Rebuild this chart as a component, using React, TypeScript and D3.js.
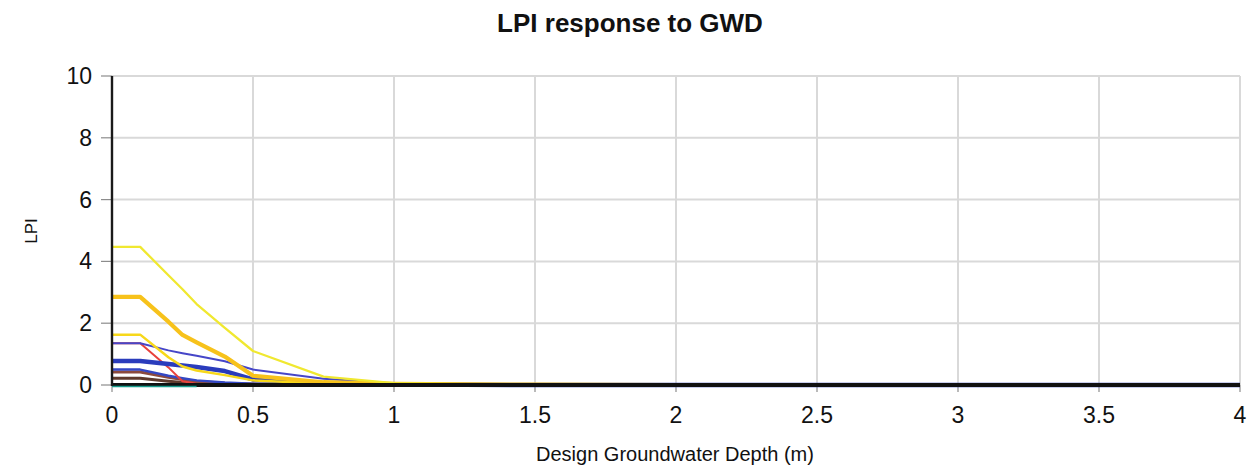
import React from "react";
import * as d3 from "d3";

const depths = [0, 0.1, 0.2, 0.25, 0.3, 0.4, 0.5, 0.75, 1, 1.25, 1.5, 2, 2.5, 3, 3.5, 4];

const lpiYellowThin = [4.47, 4.47, 3.55, 3.1, 2.62, 1.85, 1.1, 0.27, 0.06, 0.03, 0.01, 0, 0, 0, 0, 0];
const lpiOrangeThick = [2.85, 2.85, 2.05, 1.62, 1.38, 0.92, 0.3, 0.09, 0.04, 0.02, 0.01, 0, 0, 0, 0, 0];
const lpiYellowMid = [1.63, 1.63, 0.9, 0.6, 0.47, 0.32, 0.15, 0.05, 0.02, 0.01, 0, 0, 0, 0, 0, 0];
const lpiBlueThin = [1.35, 1.35, 1.12, 1.03, 0.95, 0.77, 0.5, 0.2, 0.05, 0.02, 0.01, 0, 0, 0, 0, 0];
const lpiBlueThick = [0.78, 0.78, 0.68, 0.63, 0.58, 0.45, 0.18, 0.05, 0.02, 0.01, 0, 0, 0, 0, 0, 0];
const lpiBlueMid = [0.5, 0.5, 0.3, 0.22, 0.15, 0.08, 0.04, 0.01, 0, 0, 0, 0, 0, 0, 0, 0];
const lpiRed = [1.35, 1.35, 0.57, 0.12, 0.04, 0.01, 0, 0, 0, 0, 0, 0, 0, 0, 0, 0];
const lpiBrown = [0.42, 0.42, 0.25, 0.18, 0.12, 0.06, 0.03, 0.01, 0, 0, 0, 0, 0, 0, 0, 0];
const lpiDarkBrown = [0.22, 0.22, 0.12, 0.08, 0.05, 0.02, 0.01, 0, 0, 0, 0, 0, 0, 0, 0, 0];
const lpiBlack = [0, 0, 0, 0, 0, 0, 0, 0, 0, 0, 0, 0, 0, 0, 0, 0];
const lpiTeal: (number | null)[] = [-0.05, -0.05, -0.05, -0.05, -0.05, null, null, null, null, null, null, null, null, null, null, null];

const xTicks = [0, 0.5, 1, 1.5, 2, 2.5, 3, 3.5, 4];
const yTicks = [0, 2, 4, 6, 8, 10];

const series: { values: (number | null)[]; color: string; width: number }[] = [
  { values: lpiDarkBrown, color: "#5e3a2c", width: 3 },
  { values: lpiBrown, color: "#8b4b3e", width: 3 },
  { values: lpiBlueMid, color: "#3347c4", width: 2.4 },
  { values: lpiRed, color: "#e8423c", width: 2 },
  { values: lpiBlueThick, color: "#2a3cbc", width: 4.5 },
  { values: lpiBlueThin, color: "#4646c8", width: 2 },
  { values: lpiYellowMid, color: "#f7d81a", width: 2.5 },
  { values: lpiOrangeThick, color: "#f7c21b", width: 4.2 },
  { values: lpiYellowThin, color: "#f0e830", width: 2.3 },
  { values: lpiBlack, color: "#111111", width: 4 },
  { values: lpiTeal, color: "#1a9c8c", width: 1.5 },
];

export default function App() {
  const W = 1258;
  const H = 472;
  const x = d3.scaleLinear().domain([0, 4]).range([112, 1240]);
  const y = d3.scaleLinear().domain([0, 10]).range([385, 76]);
  const font = "'Liberation Sans', Arial, sans-serif";

  const line = d3
    .line<[number, number | null]>()
    .defined((d) => d[1] !== null)
    .x((d) => x(d[0]))
    .y((d) => y(d[1] as number));

  return (
    <svg
      width={W}
      height={H}
      style={{ position: "absolute", left: 0, top: 0, background: "#fff" }}
      fontFamily={font}
    >
      <rect x={0} y={0} width={W} height={H} fill="#fff" />
      {yTicks.filter((t) => t > 0).map((t) => (
        <line key={"gy" + t} x1={x(0)} x2={x(4)} y1={y(t)} y2={y(t)} stroke="#d9d9d9" strokeWidth={2} />
      ))}
      {xTicks.filter((t) => t > 0).map((t) => (
        <line key={"gx" + t} x1={x(t)} x2={x(t)} y1={y(10)} y2={y(0)} stroke="#d9d9d9" strokeWidth={2} />
      ))}
      {yTicks.map((t) => (
        <line key={"ty" + t} x1={x(0) - 11} x2={x(0)} y1={y(t)} y2={y(t)} stroke="#8c8c8c" strokeWidth={1.2} />
      ))}
      {xTicks.map((t) => (
        <line key={"tx" + t} x1={x(t)} x2={x(t)} y1={y(0)} y2={y(0) + 7} stroke="#8c8c8c" strokeWidth={1.2} />
      ))}
      {series.map((s, i) => (
        <path
          key={i}
          d={line(depths.map((d, j) => [d, s.values[j]] as [number, number | null])) || ""}
          fill="none"
          stroke={s.color}
          strokeWidth={s.width}
          strokeLinejoin="round"
          strokeLinecap="butt"
        />
      ))}
      <line x1={x(0)} x2={x(0)} y1={y(10)} y2={y(0) + 1} stroke="#1a1a1a" strokeWidth={2.4} />
      {yTicks.map((t) => (
        <text key={"ly" + t} x={92} y={y(t)} dy="0.35em" textAnchor="end" fontSize={23} fill="#111">
          {t}
        </text>
      ))}
      {xTicks.map((t) => (
        <text key={"lx" + t} x={x(t)} y={423} textAnchor="middle" fontSize={23} fill="#111">
          {t}
        </text>
      ))}
      <text x={630} y={32} textAnchor="middle" fontSize={26} fontWeight="bold" fill="#111">
        LPI response to GWD
      </text>
      <text x={675} y={461} textAnchor="middle" fontSize={20} fill="#111">
        Design Groundwater Depth (m)
      </text>
      <text
        transform="translate(37,231) rotate(-90)"
        textAnchor="middle"
        fontSize={17}
        fill="#111"
      >
        LPI
      </text>
    </svg>
  );
}
